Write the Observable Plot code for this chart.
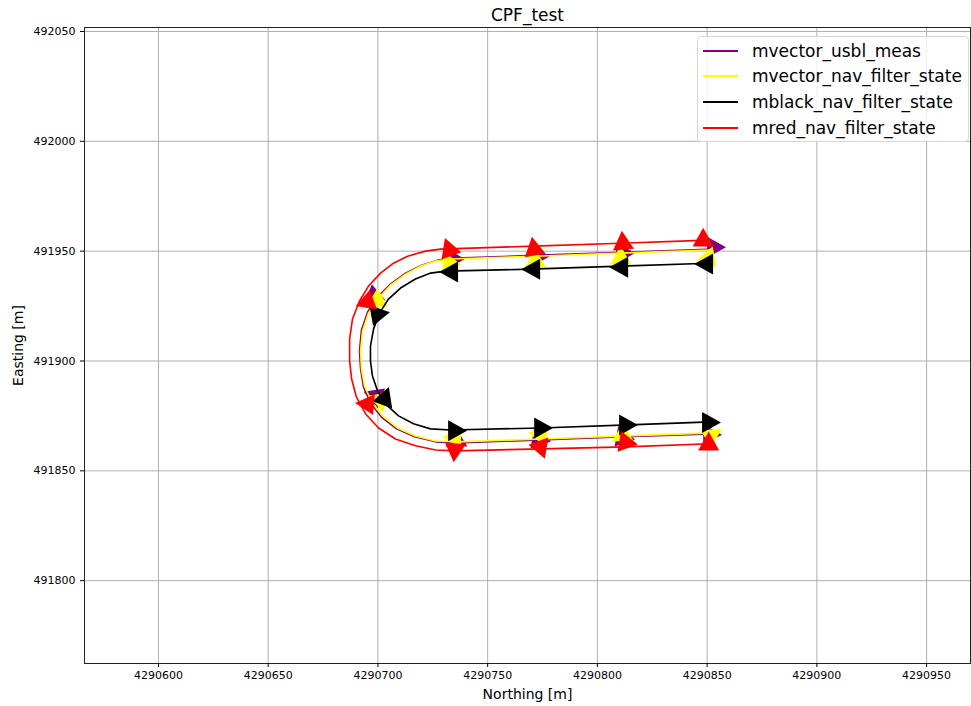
<!DOCTYPE html>
<html>
<head>
<meta charset="utf-8">
<script src="https://cdn.jsdelivr.net/npm/d3@7"></script>
<script src="https://cdn.jsdelivr.net/npm/@observablehq/plot@0.6"></script>
<style>
  html, body { margin: 0; padding: 0; background: white; }
  #wrap { position: relative; width: 971px; height: 706px; font-family: "DejaVu Sans", sans-serif; }
  #legend {
    position: absolute; left: 697px; top: 36px; width: 272px; height: 106px;
    box-sizing: border-box; border: 1px solid #d6d6d6; border-radius: 4px;
    background: rgba(255,255,255,0.8); font-size: 17px; color: #000;
  }
  .row { position: absolute; left: 0; height: 20px; display: flex; align-items: center; }
  .sw { width: 35px; height: 2px; margin-left: 5px; margin-right: 14px; }
</style>
</head>
<body>
<div id="wrap"><div id="chart"></div><div id="legend"></div></div>
<script>
// Series: [Northing, Easting]
const usblMeas = [
  [4290853.0,491950.9],[4290811.5,491949.5],[4290774.1,491948.2],[4290735.4,491946.8],
  [4290727.2,491945.9],[4290719.9,491943.6],[4290712.6,491940.0],[4290705.7,491935.0],
  [4290699.8,491929.1],[4290695.3,491922.3],[4290692.5,491914.1],[4290691.6,491904.5],
  [4290692.1,491896.4],[4290693.4,491888.2],[4290696.6,491880.9],[4290701.6,491874.5],
  [4290708.5,491869.1],[4290716.7,491865.5],[4290726.3,491863.2],[4290736.7,491862.7],
  [4290774.6,491864.1],[4290812.9,491865.5],[4290852.5,491866.8]
];
const vectorNav = [
  [4290851.6,491950.5],[4290810.6,491949.1],[4290771.8,491947.7],[4290733.1,491946.4],
  [4290726.3,491945.5],[4290719.4,491943.2],[4290712.6,491939.5],[4290705.7,491934.5],
  [4290700.3,491928.6],[4290695.7,491921.8],[4290693.0,491913.6],[4290692.1,491904.5],
  [4290692.5,491896.4],[4290693.9,491888.6],[4290697.1,491881.4],[4290702.1,491875.0],
  [4290708.9,491869.5],[4290717.1,491865.9],[4290726.3,491863.6],[4290736.3,491863.2],
  [4290774.6,491864.5],[4290812.9,491865.9],[4290852.5,491867.3]
];
const blackNav = [
  [4290850.7,491944.5],[4290810.6,491943.2],[4290769.6,491941.8],[4290730.8,491940.9],
  [4290724.0,491940.0],[4290717.1,491937.3],[4290710.3,491933.2],[4290704.8,491928.2],
  [4290700.7,491921.8],[4290698.0,491914.5],[4290696.6,491906.8],[4290696.6,491900.0],
  [4290697.5,491893.2],[4290699.8,491886.4],[4290703.9,491880.0],[4290709.4,491875.0],
  [4290716.2,491871.4],[4290724.0,491869.1],[4290733.1,491868.6],[4290774.1,491869.5],
  [4290814.2,491870.9],[4290851.6,491872.3]
];
const redNav = [
  [4290850.7,491955.0],[4290810.6,491953.6],[4290770.9,491952.3],[4290728.5,491950.9],
  [4290721.7,491950.0],[4290713.5,491947.7],[4290707.1,491944.5],[4290701.2,491940.0],
  [4290695.7,491934.1],[4290691.6,491927.3],[4290688.4,491919.1],[4290687.1,491910.0],
  [4290687.1,491900.0],[4290688.0,491891.8],[4290690.2,491883.6],[4290694.4,491875.9],
  [4290700.3,491869.5],[4290708.0,491864.5],[4290717.1,491861.4],[4290726.3,491859.5],
  [4290735.4,491859.1],[4290774.6,491860.0],[4290812.9,491860.9],[4290851.6,491862.3]
];
// Heading markers: [Northing, Easting, heading deg]
const usblArrows = [
  [4290854.3,491951.8,90],[4290812.9,491949.1,90],[4290774.1,491947.7,90],[4290735.4,491946.4,90],
  [4290697.0,491928.5,230],[4290697.5,491884.5,290],[4290737.0,491863.2,120],[4290774.6,491864.1,100],
  [4290812.9,491865.0,100],[4290852.5,491866.4,90]
];
const vectorArrows = [
  [4290851.1,491948.2,20],[4290810.6,491948.2,0],[4290771.8,491946.8,0],[4290731.7,491945.9,-25],
  [4290698.4,491926.8,240],[4290699.8,491882.7,290],[4290735.8,491864.1,150],[4290774.6,491865.0,160],
  [4290812.9,491865.5,120],[4290853.0,491866.8,60]
];
const blackArrows = [
  [4290848.4,491944.1,270],[4290809.7,491942.7,270],[4290769.6,491941.8,270],[4290732.2,491940.5,270],
  [4290701.2,491921.4,80],[4290703.5,491884.1,20],[4290736.3,491868.2,90],[4290775.5,491869.5,90],
  [4290814.2,491870.9,90],[4290852.0,491872.0,90]
];
const redArrows = [
  [4290848.2,491956.4,0],[4290811.5,491955.0,-5],[4290770.9,491952.3,-10],[4290732.0,491951.9,-20],
  [4290693.9,491926.5,250],[4290693.9,491880.5,275],[4290734.9,491858.2,185],[4290774.6,491859.5,160],
  [4290814.2,491862.7,100],[4290850.7,491863.6,0]
];
const seriesNames = ["mvector_usbl_meas","mvector_nav_filter_state","mblack_nav_filter_state","mred_nav_filter_state"];
const seriesColors = ["#800080","#ffff00","#000000","#ff0000"];
const xTicks = [4290600,4290650,4290700,4290750,4290800,4290850,4290900,4290950];
const yTicks = [491800,491850,491900,491950,492000,492050];
const xDomain = [4290566.3, 4290970];
const yDomain = [491762.3, 492051.8];

const tri = {
  draw(ctx, size) {
    const s = Math.sqrt(size / Math.PI);
    ctx.moveTo(0, -0.9 * s);
    ctx.lineTo(s, 0.9 * s);
    ctx.lineTo(-s, 0.9 * s);
    ctx.closePath();
  }
};

const lines = [usblMeas, vectorNav, blackNav, redNav];
const arrows = [usblArrows, vectorArrows, blackArrows, redArrows];
const seriesMarks = [];
lines.forEach((pts, i) => {
  seriesMarks.push(Plot.line(pts, {x: d => d[0], y: d => d[1], stroke: seriesColors[i], strokeWidth: 1.6}));
  seriesMarks.push(Plot.dot(arrows[i], {x: d => d[0], y: d => d[1], rotate: d => d[2], r: 10.5, symbol: tri, fill: seriesColors[i], stroke: "none"}));
});

const chart = Plot.plot({
  width: 971, height: 706,
  marginLeft: 84, marginRight: 1, marginTop: 27, marginBottom: 43,
  style: {fontFamily: "DejaVu Sans, sans-serif", fontSize: "11px", background: "white", color: "black"},
  x: {domain: xDomain, label: null},
  y: {domain: yDomain, label: null},
  marks: [
    Plot.gridX(xTicks, {stroke: "#b0b0b0", strokeOpacity: 1, strokeWidth: 1}),
    Plot.gridY(yTicks, {stroke: "#b0b0b0", strokeOpacity: 1, strokeWidth: 1}),
    ...seriesMarks,
    Plot.frame({stroke: "#222", strokeWidth: 1}),
    Plot.axisX(xTicks, {tickFormat: d => String(d), tickSize: 4, tickPadding: 4, fontSize: 11, label: null}),
    Plot.axisY(yTicks, {tickFormat: d => String(d), tickSize: 4, tickPadding: 5, fontSize: 11, label: null}),
    Plot.text(["CPF_test"], {text: d => d, frameAnchor: "top", dy: -12, fontSize: 17, textAnchor: "middle", lineAnchor: "middle"}),
    Plot.text(["Northing [m]"], {text: d => d, frameAnchor: "bottom", dy: 31, fontSize: 14, textAnchor: "middle", lineAnchor: "middle"}),
    Plot.text(["Easting [m]"], {text: d => d, frameAnchor: "left", dx: -66, rotate: -90, fontSize: 14, textAnchor: "middle", lineAnchor: "middle"})
  ]
});
document.getElementById("chart").appendChild(chart);

const legend = document.getElementById("legend");
const rowTops = [4, 29, 55, 81];
seriesNames.forEach((name, i) => {
  const row = document.createElement("div");
  row.className = "row";
  row.style.top = rowTops[i] + "px";
  const sw = document.createElement("div");
  sw.className = "sw";
  sw.style.background = seriesColors[i];
  const t = document.createElement("span");
  t.textContent = name;
  row.appendChild(sw); row.appendChild(t);
  legend.appendChild(row);
});
</script>
</body>
</html>
